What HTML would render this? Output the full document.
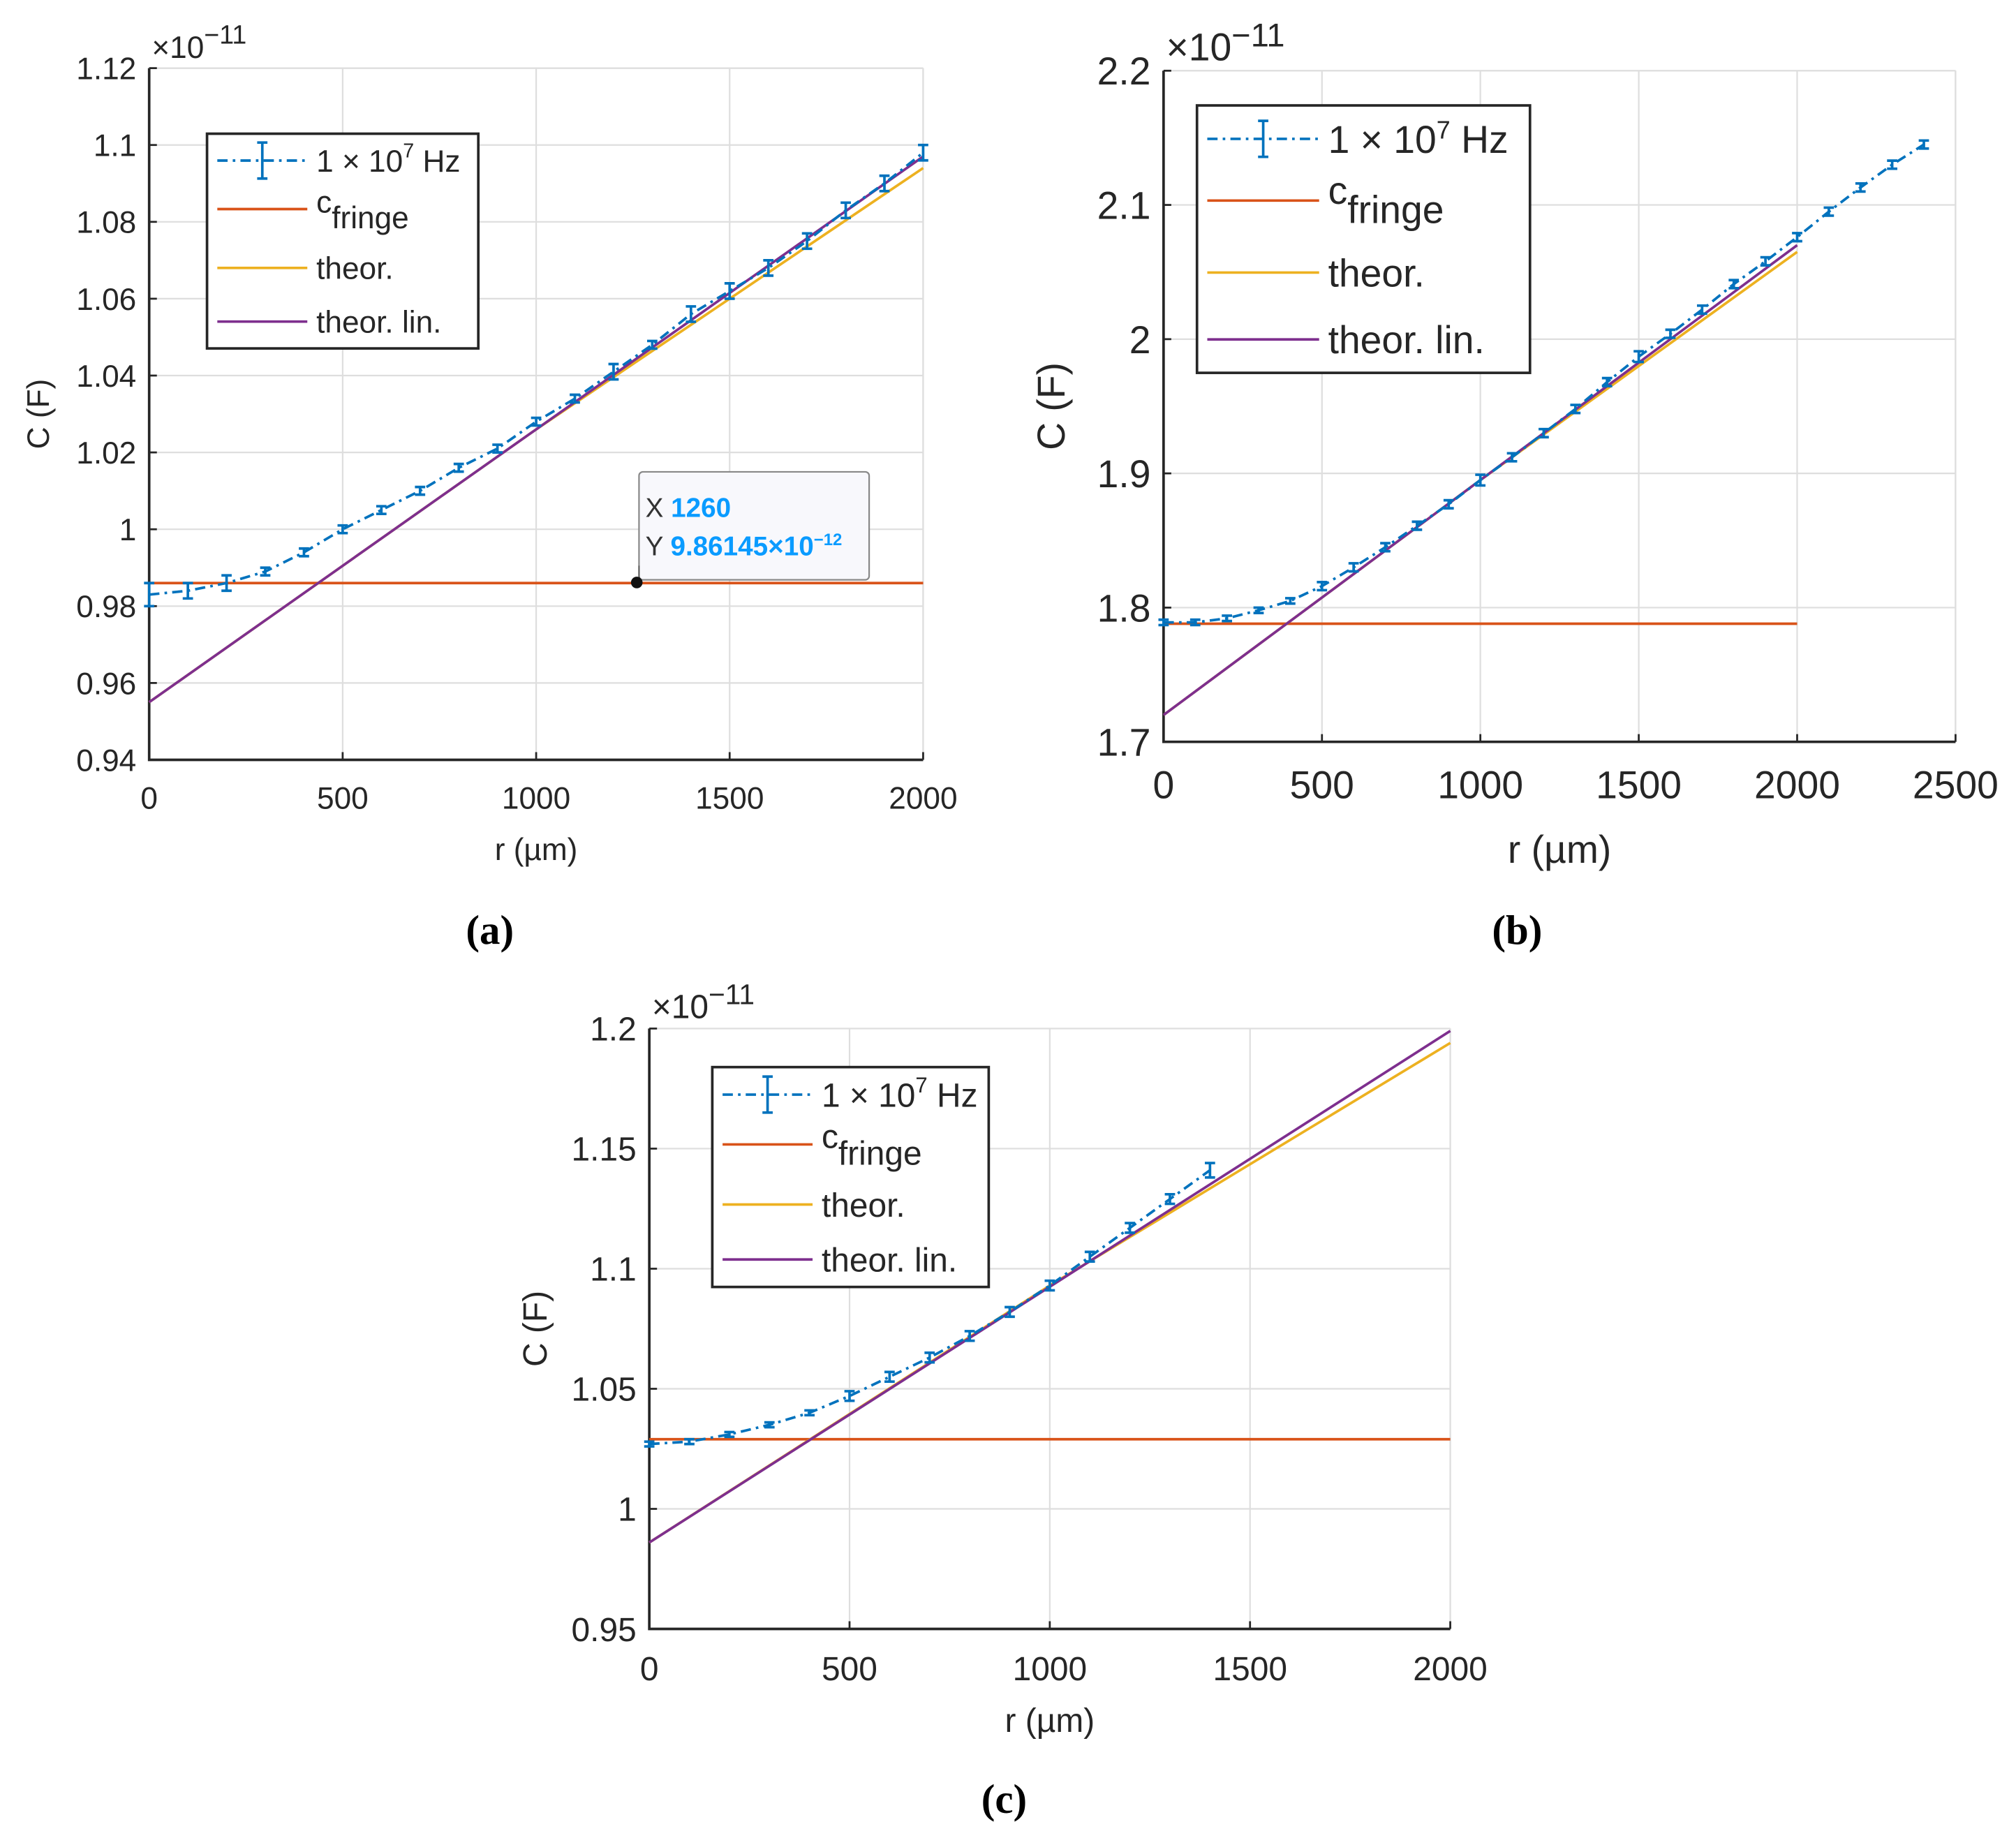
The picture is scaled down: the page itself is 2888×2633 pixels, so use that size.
<!DOCTYPE html>
<html><head><meta charset="utf-8">
<style>
html,body{margin:0;padding:0;background:#fff;}
svg{display:block;font-family:"Liberation Sans",Arial,sans-serif;}
</style></head>
<body>
<svg id="fig" width="2888" height="2633" viewBox="0 0 1568 1429.6" xmlns="http://www.w3.org/2000/svg"></svg>
<script>
// Panel (a)
const aX=[0,100,200,300,400,500,600,700,800,900,1000,1100,1200,1300,1400,1500,1600,1700,1800,1900,2000];
const aY=[0.983,0.984,0.986,0.989,0.994,1.000,1.005,1.010,1.016,1.021,1.028,1.034,1.041,1.048,1.056,1.062,1.068,1.075,1.083,1.090,1.098];
const aErr=[0.003,0.002,0.002,0.001,0.001,0.001,0.001,0.001,0.001,0.001,0.001,0.001,0.002,0.001,0.002,0.002,0.002,0.002,0.002,0.002,0.002];
const aFringe=[0.986,0.986];
const aTheorX=[0,1000,2000];
const aTheor=[0.955,1.026,1.094];
const aLin=[0.955,1.026,1.097];
const aXTicks=[0,500,1000,1500,2000];
const aYTicks=[0.94,0.96,0.98,1,1.02,1.04,1.06,1.08,1.1,1.12];
const aYLabels=["0.94","0.96","0.98","1","1.02","1.04","1.06","1.08","1.1","1.12"];
// Panel (b)
const bX=[0,100,200,300,400,500,600,700,800,900,1000,1100,1200,1300,1400,1500,1600,1700,1800,1900,2000,2100,2200,2300,2400];
const bY=[1.789,1.789,1.792,1.798,1.805,1.816,1.830,1.845,1.861,1.877,1.895,1.912,1.930,1.948,1.968,1.987,2.004,2.022,2.041,2.058,2.076,2.095,2.113,2.130,2.145];
const bErr=[0.002,0.002,0.002,0.002,0.002,0.003,0.003,0.003,0.003,0.003,0.004,0.003,0.003,0.003,0.003,0.004,0.003,0.003,0.003,0.003,0.003,0.003,0.003,0.003,0.003];
const bFringe=[1.788,1.788];
const bTheorX=[0,1000,2000];
const bTheor=[1.72,1.895,2.065];
const bLin=[1.72,1.895,2.07];
const bXTicks=[0,500,1000,1500,2000,2500];
const bYTicks=[1.7,1.8,1.9,2,2.1,2.2];
const bYLabels=["1.7","1.8","1.9","2","2.1","2.2"];
// Panel (c)
const cX=[0,100,200,300,400,500,600,700,800,900,1000,1100,1200,1300,1400];
const cY=[1.027,1.028,1.031,1.035,1.040,1.047,1.055,1.063,1.072,1.082,1.093,1.105,1.117,1.129,1.141];
const cErr=[0.001,0.001,0.001,0.001,0.001,0.002,0.002,0.002,0.002,0.002,0.002,0.002,0.002,0.002,0.003];
const cFringe=[1.029,1.029];
const cTheorX=[0,1000,2000];
const cTheor=[0.986,1.093,1.194];
const cLin=[0.986,1.0925,1.199];
const cXTicks=[0,500,1000,1500,2000];
const cYTicks=[0.95,1,1.05,1.1,1.15,1.2];
const cYLabels=["0.95","1","1.05","1.1","1.15","1.2"];

const NS="http://www.w3.org/2000/svg";
const fig=document.getElementById('fig');
function mk(tag,attrs,parent,txt){const e=document.createElementNS(NS,tag);for(const k in attrs)e.setAttribute(k,attrs[k]);if(txt!==undefined)e.textContent=txt;(parent||fig).appendChild(e);return e;}

function panel(P){
  const g=mk('g',{});
  
  
  const sx=v=>P.x0+(v-P.xmin)/(P.xmax-P.xmin)*(P.x1-P.x0);
  const sy=v=>P.y0-(v-P.ymin)/(P.ymax-P.ymin)*(P.y0-P.y1);
  P.xt.forEach(t=>{const l=mk('line',{x1:sx(t),x2:sx(t),y1:P.y1,y2:P.y0,stroke:'#dedede','stroke-width':1.2},g);
    });
  P.yt.forEach(t=>{const l=mk('line',{x1:P.x0,x2:P.x1,y1:sy(t),y2:sy(t),stroke:'#dedede','stroke-width':1.2},g);
    });
  mk('line',{x1:P.x0,x2:P.x1,y1:P.y1,y2:P.y1,stroke:'#dedede','stroke-width':1.2},g);
  mk('line',{x1:P.x1,x2:P.x1,y1:P.y1,y2:P.y0,stroke:'#dedede','stroke-width':1.2},g);
  const ax=mk('path',{d:`M${P.x0},${P.y1}V${P.y0}H${P.x1}`,fill:'none',stroke:'#262626','stroke-width':2},g);
  
  P.xt.forEach(t=>{mk('line',{x1:sx(t),x2:sx(t),y1:P.y0,y2:P.y0-6,stroke:'#262626','stroke-width':1.5},g);
    const tx=mk('text',{x:sx(t),y:P.y0+P.fs+14,'font-size':P.fs,'text-anchor':'middle',fill:'#262626'},g,String(t));
    });
  P.yt.forEach((t,i)=>{mk('line',{x1:P.x0,x2:P.x0+6,y1:sy(t),y2:sy(t),stroke:'#262626','stroke-width':1.5},g);
    const tx=mk('text',{x:P.x0-10,y:sy(t)+P.fs*0.36,'font-size':P.fs,'text-anchor':'end',fill:'#262626'},g,P.yl[i]);
    });
  const ex=mk('text',{x:P.x0+2,y:P.y1-8,'font-size':P.fs,fill:'#262626'},g);
  
  ex.innerHTML='×10<tspan dy="-11" font-size="'+(P.fs*0.85)+'">−11</tspan>';
  const xl=mk('text',{x:(P.x0+P.x1)/2,y:P.y0+P.xtY,'font-size':P.fs,'text-anchor':'middle',fill:'#262626'},g,'r (µm)');
  
  const yl=mk('text',{x:0,y:0,'font-size':P.fs,'text-anchor':'middle',fill:'#262626',transform:`translate(${P.ytx},${(P.y0+P.y1)/2}) rotate(-90)`},g,'C (F)');
  
  const fr=mk('line',{x1:sx(P.xmin),x2:sx(P.fx),y1:sy(P.fringe[0]),y2:sy(P.fringe[1]),stroke:'#d95319','stroke-width':2},g);
  
  const th=mk('polyline',{points:P.tx.map((x,i)=>sx(x)+','+sy(P.theor[i])).join(' '),fill:'none',stroke:'#edb120','stroke-width':2},g);
  
  const li=mk('polyline',{points:P.tx.map((x,i)=>sx(x)+','+sy(P.lin[i])).join(' '),fill:'none',stroke:'#7e2f8e','stroke-width':2},g);
  
  const ms=mk('polyline',{points:P.dx.map((x,i)=>sx(x)+','+sy(P.dy[i])).join(' '),fill:'none',stroke:'#0072bd','stroke-width':2,'stroke-dasharray':'8 4 2 4'},g);
  
  P.dx.forEach((x,i)=>{const X=sx(x),a=sy(P.dy[i]+P.err[i]),b=sy(P.dy[i]-P.err[i]);
    const e=mk('path',{d:`M${X-4},${a}H${X+4}M${X},${a}V${b}M${X-4},${b}H${X+4}`,stroke:'#0072bd','stroke-width':2,fill:'none'},g);
    });
  const L=P.leg;
  const lg=mk('g',{},g);
  
  mk('rect',{x:L.x,y:L.y,width:L.w,height:L.h,fill:'#fff',stroke:'#262626','stroke-width':2},lg);
  const rh=L.h/4, lx1=L.x+8, lx2=L.x+L.lw, tx=lx2+7;
  const cols=['#0072bd','#d95319','#edb120','#7e2f8e'];
  for(let k=0;k<4;k++){const yy=L.y+rh*(k+0.5)+(k==1?-4:0);
    const ln=mk('line',{x1:lx1,x2:lx2,y1:yy,y2:yy,stroke:cols[k],'stroke-width':2,'stroke-dasharray':k==0?'8 4 2 4':'none'},lg);
    
    if(k==0){const cx=(lx1+lx2)/2;mk('path',{d:`M${cx-4},${yy-14}H${cx+4}M${cx},${yy-14}V${yy+14}M${cx-4},${yy+14}H${cx+4}`,stroke:cols[0],'stroke-width':2,fill:'none'},lg);}
  }
  const t0=mk('text',{x:tx,y:L.y+rh*0.5+L.fs*0.36,'font-size':L.fs,fill:'#262626'},lg);
  
  t0.innerHTML='1 × 10<tspan dy="-11" font-size="'+(L.fs*0.65)+'">7</tspan><tspan dy="11"> Hz</tspan>';
  const t1=mk('text',{x:tx,y:L.y+rh*1.5-L.fs*0.05,'font-size':L.fs,fill:'#262626'},lg);
  
  t1.innerHTML='c<tspan dy="'+(L.fs*0.5)+'">fringe</tspan>';
  const t2=mk('text',{x:tx,y:L.y+rh*2.5+L.fs*0.36,'font-size':L.fs,fill:'#262626'},lg,'theor.');
  
  const t3=mk('text',{x:tx,y:L.y+rh*3.5+L.fs*0.36,'font-size':L.fs,fill:'#262626'},lg,'theor. lin.');
  
  const cap=mk('text',{x:P.capX,y:P.capY,'font-size':32,'font-weight':'bold','text-anchor':'middle',fill:'#000','font-family':'Liberation Serif,serif'},g,P.cap);
  
  return {g,sx,sy};
}

const pa=panel({name:'panel-a',x0:116,x1:718,y0:591,y1:53,xmin:0,xmax:2000,ymin:0.94,ymax:1.12,xt:aXTicks,yt:aYTicks,yl:aYLabels,fs:24,xtY:78,ytx:38,
  dx:aX,dy:aY,err:aErr,fringe:aFringe,fx:2000,tx:aTheorX,theor:aTheor,lin:aLin,
  leg:{x:161,y:104,w:211,h:167,lw:78,fs:24},cap:'(a)',capX:381,capY:734});
(function(){const X=pa.sx(1260),Y=pa.sy(0.986145);
  const tip=mk('g',{},pa.g);
  mk('rect',{x:497,y:367,width:179,height:84,rx:3,fill:'#f8f8fc',stroke:'#888','stroke-width':1.2},tip);
  mk('line',{x1:497,x2:497,y1:440,y2:Y,stroke:'#555','stroke-width':1},tip);
  mk('circle',{cx:X,cy:Y,r:4.5,fill:'#111'},tip);
  const a=mk('text',{x:502,y:402,'font-size':21,fill:'#333'},tip);a.innerHTML='X <tspan fill="#0a9bff" font-weight="bold">1260</tspan>';
  const b=mk('text',{x:502,y:432,'font-size':21,fill:'#333'},tip);b.innerHTML='Y <tspan fill="#0a9bff" font-weight="bold">9.86145×10<tspan dy="-8" font-size="13">−12</tspan></tspan>';
})();
panel({name:'panel-b',x0:905,x1:1521,y0:577,y1:55,xmin:0,xmax:2500,ymin:1.7,ymax:2.2,xt:bXTicks,yt:bYTicks,yl:bYLabels,fs:30,xtY:94,ytx:828,
  dx:bX,dy:bY,err:bErr,fringe:bFringe,fx:2000,tx:bTheorX,theor:bTheor,lin:bLin,
  leg:{x:931,y:82,w:259,h:208,lw:95,fs:30},cap:'(b)',capX:1180,capY:734});
panel({name:'panel-c',x0:505,x1:1128,y0:1267,y1:800,xmin:0,xmax:2000,ymin:0.95,ymax:1.2,xt:cXTicks,yt:cYTicks,yl:cYLabels,fs:26,xtY:80,ytx:425,
  dx:cX,dy:cY,err:cErr,fringe:cFringe,fx:2000,tx:cTheorX,theor:cTheor,lin:cLin,
  leg:{x:554,y:830,w:215,h:171,lw:78,fs:26},cap:'(c)',capX:781,capY:1410});
</script>
</body></html>
